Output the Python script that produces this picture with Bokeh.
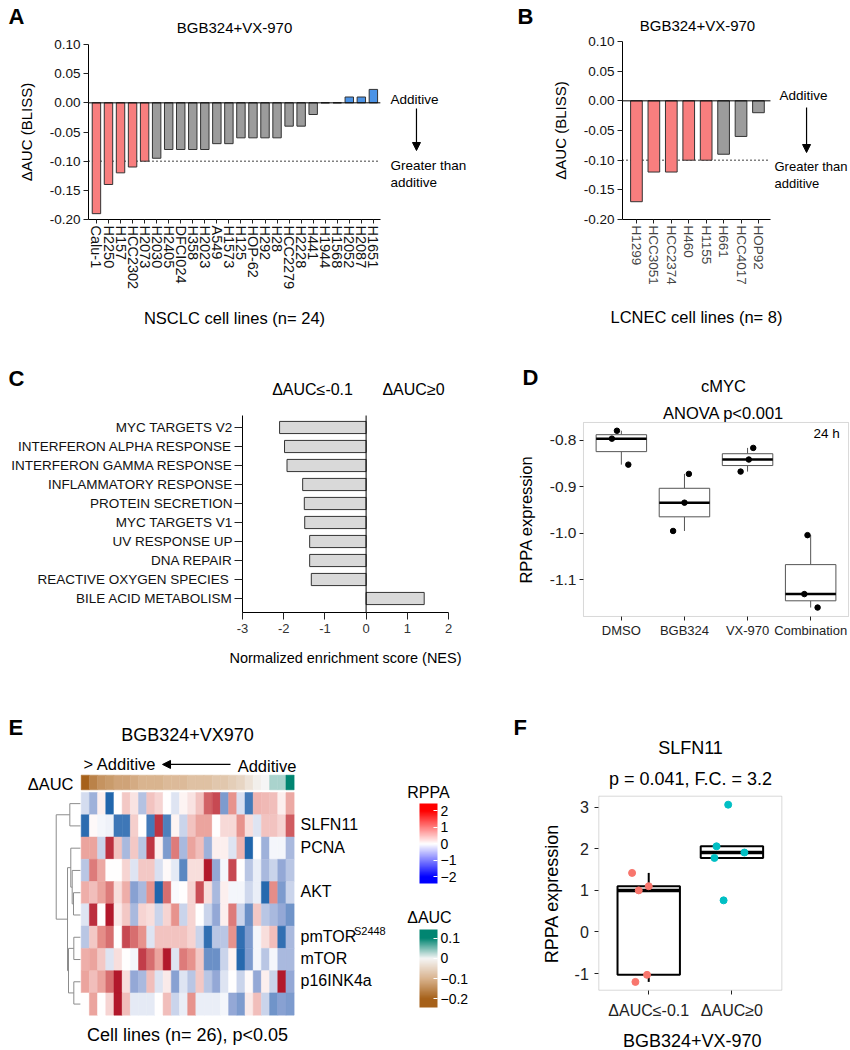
import numpy as np
from bokeh.plotting import figure
from bokeh.layouts import column, row
from bokeh.models import (FixedTicker, Label, Arrow, NormalHead, ColumnDataSource, BoxAnnotation,
                          LinearColorMapper, ColorBar, PrintfTickFormatter)
from bokeh.transform import transform
from bokeh.embed import file_html
from bokeh.resources import INLINE

FONT = "Liberation Sans"

# ---------------- data ----------------
A_LINES = ["Calu-1", "H2250", "H157", "HCC2302", "H2073", "H2030", "H2405", "DFCI024", "H358",
           "H2023", "A549", "H1573", "H125", "HOP-62", "H292", "H28", "HCC2279", "H2228", "H441",
           "H1944", "H1568", "H2052", "H2087", "H1651"]
A_DAUC = [-0.19, -0.14, -0.12, -0.11, -0.10, -0.095, -0.08, -0.08, -0.08, -0.08, -0.07, -0.07,
          -0.06, -0.06, -0.06, -0.06, -0.04, -0.04, -0.02, 0.0, 0.0, 0.01, 0.01, 0.023]

B_LINES = ["H1299", "HCC3051", "HCC2374", "H460", "H1155", "H661", "HCC4017", "HOP92"]
B_DAUC = [-0.17, -0.12, -0.12, -0.10, -0.10, -0.09, -0.06, -0.02]

C_PATHWAYS = ["MYC TARGETS V2", "INTERFERON ALPHA RESPONSE", "INTERFERON GAMMA RESPONSE",
              "INFLAMMATORY RESPONSE", "PROTEIN SECRETION", "MYC TARGETS V1", "UV RESPONSE UP",
              "DNA REPAIR", "REACTIVE OXYGEN SPECIES ", "BILE ACID METABOLISM"]
C_NES = [-2.10, -1.98, -1.92, -1.54, -1.50, -1.49, -1.37, -1.37, -1.33, 1.41]

D_GROUPS = ["DMSO", "BGB324", "VX-970", "Combination"]
D_VALUES = [[-0.779, -0.796, -0.852], [-0.872, -0.934, -0.995],
            [-0.816, -0.841, -0.867], [-1.004, -1.131, -1.160]]
D_JITTER = [[-0.07, -0.15, 0.11], [0.07, 0.0, -0.18], [0.09, 0.02, -0.11], [-0.05, -0.10, 0.11]]

E_DAUC = [-0.20, -0.16, -0.14, -0.13, -0.12, -0.12, -0.11, -0.10, -0.10, -0.10, -0.09, -0.09, -0.09,
          -0.08, -0.08, -0.08, -0.07, -0.07, -0.06, -0.05, -0.03, -0.01, 0.00, 0.03, 0.03, 0.10]
E_RPPA = [
    [-0.4, -0.9, 0.15, -2.0, 0.0, 0.5, 0.25, -0.7, 0.55, 0.4, 0.0, -0.3, 0.1, 0.25, 0.55, 1.4, 1.6, -1.2, 1.0, -0.35, -1.7, 0.7, 0.65, 0.6, 0.15, 0.8],
    [-1.9, 0.05, -0.1, -0.15, -1.75, -1.75, 0.45, 0.0, -1.7, 1.75, -1.6, 0.1, -0.5, 0.55, 0.85, 0.85, 0.0, 0.35, 0.35, 1.0, 0.3, -0.3, 0.55, 0.55, 0.4, 1.45],
    [0.85, 0.85, -0.5, 1.8, 0.55, -0.8, 0.5, -0.65, 1.75, 0.15, -1.2, 1.2, -0.8, 0.85, 0.6, -0.9, 0.15, 0.15, -0.3, 0.7, -2.0, 0.0, -0.9, -0.1, -0.1, -0.8],
    [-0.65, 1.2, 0.8, 0.0, 0.0, 0.4, -0.3, 0.5, 0.5, -0.35, 0.05, -0.25, -1.5, 0.3, 0.3, 2.0, -1.0, -0.1, 1.6, 0.0, -0.65, -0.2, -0.8, -0.5, -1.0, -0.65],
    [0.75, 0.6, 0.85, 1.2, 0.3, 0.75, -1.1, -0.8, 1.0, -2.0, 1.3, -0.05, 0.0, 0.4, 1.55, 0.3, -0.8, 0.15, -0.1, -0.1, -0.45, -0.2, -1.95, 1.05, -1.2, -0.5],
    [-0.3, 1.8, 0.0, 2.0, 0.2, 0.5, -0.8, 0.4, 0.3, -0.5, 0.4, 1.0, -0.5, 0.4, 0.0, -0.5, -1.0, 0.15, 1.2, -0.5, -1.35, 0.5, -0.65, -0.8, -1.0, -1.3],
    [-0.65, 0.5, 1.05, 1.3, 0.0, 1.6, 1.3, 1.0, -0.3, 0.55, 0.55, 0.55, 0.55, 0.4, -0.5, -1.85, -0.65, -0.65, 1.0, -1.85, -1.2, -0.1, 0.3, 0.6, -1.85, -0.8],
    [0.75, 0.85, 0.5, -0.3, 0.3, 0.0, -0.1, 1.7, 1.3, 0.85, 2.0, -0.3, 1.2, 1.0, 0.5, -1.35, -1.35, -0.5, 0.1, -1.95, -1.2, -0.1, -0.65, -0.1, -0.8, -0.8],
    [0.85, 0.6, 0.85, 1.3, 2.0, 0.3, -1.0, -0.8, 0.6, -0.3, 0.2, -1.1, -0.3, -0.65, 0.5, -0.65, -1.0, -0.3, 0.0, -0.5, 0.05, -1.0, 0.15, -0.5, 2.0, -1.0],
    [0.0, 0.85, 0.0, 0.4, 2.0, 0.6, -0.25, -0.25, -0.25, 0.0, 0.6, -0.5, -0.2, 1.0, -0.2, -0.2, -0.2, -0.1, -1.0, -1.2, 0.2, 0.6, -0.5, -1.3, -1.1, -1.2],
]
E_ROW_LABELS = {1: "SLFN11", 2: "PCNA", 4: "AKT", 6: "pmTOR", 7: "mTOR", 8: "p16INK4a"}
# row dendrogram (linkage: child a, child b, merge position)
DEND_A = [4, 3, 2, 6, 8, 13, 12, 0, 17]
DEND_B = [5, 10, 11, 7, 9, 14, 15, 1, 16]
DEND_H = [-0.94, -1.10, -1.27, -0.90, -0.90, -1.55, -1.67, -1.39, -3.05]

F_GROUPS = ["\u0394AUC\u2264-0.1", "\u0394AUC\u22650"]
F_VALUES = [[1.42, 1.00, 1.10, -1.03, -1.20], [3.06, 2.06, 1.78, 1.91, 0.76]]
F_JITTER = [[-0.20, -0.12, 0.0, -0.02, -0.16], [-0.045, -0.185, -0.21, 0.15, -0.10]]

RED, GRAY, BLUE = "#F87E7E", "#9C9C9C", "#4B93E6"


# ---------------- helpers ----------------
def ramp(stops, colors, low, high, n=256):
    rgb = np.array([[int(c[i:i + 2], 16) for i in (1, 3, 5)] for c in colors], float)
    out = []
    for v in np.linspace(low, high, n):
        r = [int(round(np.interp(v, stops, rgb[:, k]))) for k in range(3)]
        out.append("#%02x%02x%02x" % tuple(r))
    return out


def base_fig(w, h, xr, yr, axes=True):
    kw = dict(width=w, height=h, x_range=xr, y_range=yr, output_backend="svg",
              toolbar_location=None, title=None, min_border=0, min_border_left=0,
              min_border_right=0, min_border_top=0, min_border_bottom=0)
    if not axes:
        kw.update(x_axis_location=None, y_axis_location=None)
    p = figure(**kw)
    p.xgrid.visible = False
    p.ygrid.visible = False
    p.outline_line_color = None
    p.background_fill_color = "white"
    p.border_fill_color = "white"
    return p


def style_axis(ax, size, color="#000000", tick_out=5, standoff=3, line=True):
    ax.axis_line_color = "black" if line else None
    ax.major_tick_line_color = "#222222"
    ax.major_tick_out = tick_out
    ax.major_tick_in = 0
    ax.minor_tick_line_color = None
    ax.major_label_text_font = FONT
    ax.major_label_text_font_size = size
    ax.major_label_text_color = color
    ax.major_label_standoff = standoff
    ax.axis_label_text_font = FONT
    ax.axis_label_text_font_style = "normal"
    ax.axis_label_text_color = "black"


def lab(p, x, y, text, size, align="left", baseline="middle", bold=False):
    p.add_layout(Label(x=x, y=y, text=text, text_font=FONT,
                       text_font_size=size, text_align=align, text_baseline=baseline,
                       text_font_style="bold" if bold else "normal", text_color="black"))


def arrow(p, x0, y0, x1, y1):
    p.add_layout(Arrow(end=NormalHead(size=8, fill_color="black", line_color="black"),
                       x_start=x0, y_start=y0, x_end=x1, y_end=y1, line_width=1.2,
                       line_color="black"))


def box_stats(vals):
    q1, med, q3 = np.percentile(vals, [25, 50, 75])
    iqr = q3 - q1
    lo = min(v for v in vals if v >= q1 - 1.5 * iqr)
    hi = max(v for v in vals if v <= q3 + 1.5 * iqr)
    return q1, med, q3, lo, hi


def bar_panel(w, h, names, vals, xr, yr, xb, width, xlabel, tick_color, tick_size, lab_standoff):
    p = base_fig(w, h, xr, yr)
    xs = list(range(len(names)))
    cols = [RED if v <= -0.10 else (BLUE if v > 0 else GRAY) for v in vals]
    p.segment(x0=[xb[0]], y0=[-0.10], x1=[xb[1]], y1=[-0.10], line_color="black",
              line_dash="1 3", line_width=1.5)
    p.vbar(x=xs, top=vals, bottom=0, width=width, fill_color=cols, line_color="#333333",
           line_width=1)
    p.segment(x0=[xb[0]], y0=[0], x1=[xb[1]], y1=[0], line_color="black", line_width=1)
    style_axis(p.yaxis[0], "13.5px", "#111111", tick_out=5, standoff=3)
    p.yaxis.fixed_location = xb[0]
    p.yaxis.bounds = (-0.20, 0.10)
    p.yaxis.ticker = FixedTicker(ticks=[-0.20, -0.15, -0.10, -0.05, 0.0, 0.05, 0.10])
    p.yaxis.formatter = PrintfTickFormatter(format="%.2f")
    p.yaxis.axis_label = "\u0394AUC (BLISS)"
    p.yaxis.axis_label_text_font_size = "15px"
    p.yaxis.axis_label_standoff = 12
    style_axis(p.xaxis[0], tick_size, tick_color, tick_out=4, standoff=2)
    p.xaxis.fixed_location = -0.20
    p.xaxis.bounds = xb
    p.xaxis.ticker = FixedTicker(ticks=xs)
    p.xaxis.major_label_overrides = {i: n for i, n in enumerate(names)}
    p.xaxis.major_label_orientation = "vertical"
    p.xaxis.axis_label = xlabel
    p.xaxis.axis_label_text_font_size = "16.5px"
    p.xaxis.axis_label_standoff = lab_standoff
    return p


# ---------------- Panel A ----------------
pA = bar_panel(470, 333, A_LINES, A_DAUC, (-7.969, 31.067), (-0.39543, 0.17543), (-0.66, 23.58),
               0.7, "NSCLC cell lines (n= 24)", "#111111", "14.5px", 17)
lab(pA, -7.30, 0.148, "A", "22px", bold=True)
lab(pA, 11.47, 0.129, "BGB324+VX-970", "15px", align="center")
lab(pA, 24.42, 0.0057, "Additive", "13.5px")
arrow(pA, 26.58, -0.0097, 26.58, -0.0817)
lab(pA, 24.42, -0.1074, "Greater than", "13.5px")
lab(pA, 24.42, -0.1366, "additive", "13.5px")

# ---------------- Panel B ----------------
pB = bar_panel(380, 333, B_LINES, B_DAUC, (-9.521, 12.281), (-0.3921, 0.1691), (-0.8, 7.69),
               0.67, "LCNEC cell lines (n= 8)", "#444444", "13.5px", 20)
lab(pB, -6.82, 0.142, "B", "22px", bold=True)
lab(pB, 3.50, 0.127, "BGB324+VX-970", "15px", align="center")
lab(pB, 8.21, 0.009, "Additive", "13.5px")
arrow(pB, 9.76, -0.0112, 9.76, -0.0871)
lab(pB, 7.92, -0.1107, "Greater than", "13px")
lab(pB, 7.92, -0.1393, "additive", "13px")

# ---------------- Panel C ----------------
pC = base_fig(463, 337, (-8.874, 2.364), (12.789, -4.947))
ys = list(range(len(C_PATHWAYS)))
pC.hbar(y=ys, left=0, right=C_NES, height=0.64, fill_color="#D9D9D9", line_color="#333333",
        line_width=1)
pC.segment(x0=[0], y0=[-0.63], x1=[0], y1=[9.74], line_color="black", line_width=1)
style_axis(pC.yaxis[0], "13.5px", "#111111", tick_out=8, standoff=2)
pC.yaxis.fixed_location = -3
pC.yaxis.bounds = (-0.63, 9.74)
pC.yaxis.ticker = FixedTicker(ticks=ys)
pC.yaxis.major_label_overrides = {i: n for i, n in enumerate(C_PATHWAYS)}
style_axis(pC.xaxis[0], "13px", "#333333", tick_out=7, standoff=4)
pC.xaxis.fixed_location = 9.74
pC.xaxis.bounds = (-3, 2)
pC.xaxis.ticker = FixedTicker(ticks=[-3, -2, -1, 0, 1, 2])
pC.xaxis.formatter = PrintfTickFormatter(format="%d")
pC.xaxis.axis_label = "Normalized enrichment score (NES)"
pC.xaxis.axis_label_text_font_size = "14.5px"
pC.xaxis.axis_label_standoff = 14
lab(pC, -8.68, -2.58, "C", "22px", bold=True)
lab(pC, -1.30, -2.0, "\u0394AUC\u2264-0.1", "16px", align="center")
lab(pC, 1.15, -2.0, "\u0394AUC\u22650", "16px", align="center")

# ---------------- Panel D ----------------
D_BOX = (0.4, 4.6, -1.1793, -0.7612)
pD = base_fig(387, 337, (-1.5017, 4.6314), (-1.2957, -0.5694))
cx, q1s, meds, q3s, los, his, px, py = [], [], [], [], [], [], [], []
for i, vals in enumerate(D_VALUES):
    q1, med, q3, lo, hi = box_stats(vals)
    cx.append(i + 1); q1s.append(q1); meds.append(med); q3s.append(q3); los.append(lo); his.append(hi)
    px += [i + 1 + j for j in D_JITTER[i]]
    py += vals
pD.segment(x0=cx, y0=q3s, x1=cx, y1=his, line_color="#555555", line_width=1)
pD.segment(x0=cx, y0=q1s, x1=cx, y1=los, line_color="#555555", line_width=1)
pD.vbar(x=cx, width=0.8, top=q3s, bottom=q1s, fill_color="white", line_color="#555555", line_width=1)
pD.segment(x0=[c - 0.4 for c in cx], y0=meds, x1=[c + 0.4 for c in cx], y1=meds,
           line_color="black", line_width=2.5)
pD.scatter(x=px, y=py, size=5.5, color="black")
pD.add_layout(BoxAnnotation(left=D_BOX[0], right=D_BOX[1], bottom=D_BOX[2], top=D_BOX[3],
                            fill_alpha=0, line_color="#808080", line_width=1))
style_axis(pD.yaxis[0], "15.5px", "#222222", tick_out=4, standoff=3, line=False)
pD.yaxis.fixed_location = D_BOX[0]
pD.yaxis.bounds = (D_BOX[2], D_BOX[3])
pD.yaxis.ticker = FixedTicker(ticks=[-1.1, -1.0, -0.9, -0.8])
pD.yaxis.formatter = PrintfTickFormatter(format="%.1f")
pD.yaxis.axis_label = "RPPA expression"
pD.yaxis.axis_label_text_font_size = "16.5px"
pD.yaxis.axis_label_standoff = 12
style_axis(pD.xaxis[0], "13px", "#222222", tick_out=4, standoff=3, line=False)
pD.xaxis.fixed_location = D_BOX[2]
pD.xaxis.bounds = (D_BOX[0], D_BOX[1])
pD.xaxis.ticker = FixedTicker(ticks=[1, 2, 3, 4])
pD.xaxis.major_label_overrides = {i + 1: g for i, g in enumerate(D_GROUPS)}
lab(pD, -0.567, -0.6642, "D", "22px", bold=True)
lab(pD, 2.62, -0.6836, "cMYC", "16.5px", align="center")
lab(pD, 2.62, -0.7397, "ANOVA p<0.001", "16.5px", align="center")
lab(pD, 4.46, -0.7849, "24 h", "13.5px", align="right")

# ---------------- Panel E (heatmap) ----------------
pE = base_fig(400, 380, (-9.853, 38.986), (11.585, -5.478), axes=False)
hm_mapper = LinearColorMapper(palette=ramp([-2, -1, 0, 1, 2],
                                           ["#2166AC", "#94A8D6", "#FFFFFF", "#E8948E", "#B2182B"],
                                           -2, 2), low=-2, high=2)
auc_stops = [-0.2, -0.1, 0.0, 0.1]
auc_cols = ["#A6611A", "#D9B48F", "#F5F5F5", "#018571"]
auc_mapper = LinearColorMapper(palette=ramp(auc_stops, auc_cols, -0.2, 0.1), low=-0.2, high=0.1)
hx, hy, hv = [], [], []
for r, rowvals in enumerate(E_RPPA):
    for c, v in enumerate(rowvals):
        hx.append(c + 0.5); hy.append(r + 0.5); hv.append(v)
src = ColumnDataSource(dict(x=hx, y=hy, v=hv))
pE.rect(x="x", y="y", width=1, height=1, source=src, fill_color=transform("v", hm_mapper),
        line_color=transform("v", hm_mapper), line_width=0.5)
asrc = ColumnDataSource(dict(x=[c + 0.5 for c in range(len(E_DAUC))], y=[-0.45] * len(E_DAUC), v=E_DAUC))
pE.rect(x="x", y="y", width=1, height=0.66, source=asrc, fill_color=transform("v", auc_mapper),
        line_color=transform("v", auc_mapper), line_width=0.5)
# dendrogram from linkage
nx = {i: -0.1 for i in range(len(E_RPPA))}
ny = {i: i + 0.5 for i in range(len(E_RPPA))}
sx0, sy0, sx1, sy1 = [], [], [], []
for k, (a, b, h) in enumerate(zip(DEND_A, DEND_B, DEND_H)):
    nid = len(E_RPPA) + k
    nx[nid] = h
    ny[nid] = (ny[a] + ny[b]) / 2
    sx0 += [h, h, h]; sy0 += [ny[a], ny[a], ny[b]]
    sx1 += [h, nx[a], nx[b]]; sy1 += [ny[b], ny[a], ny[b]]
pE.segment(x0=sx0, y0=sy0, x1=sx1, y1=sy1, line_color="#8C8C8C", line_width=1)
for r, name in E_ROW_LABELS.items():
    lab(pE, 26.78, r + 0.45, name, "16px")
lab(pE, 33.3, 6.22, "S2448", "11px")
lab(pE, -8.88, -2.92, "E", "22px", bold=True)
lab(pE, 12.98, -2.60, "BGB324+VX970", "18px", align="center")
lab(pE, 0.28, -1.26, "> Additive", "16.5px")
arrow(pE, 18.23, -1.26, 9.93, -1.26)
lab(pE, 19.1, -1.17, "Additive", "16.5px")
lab(pE, -0.94, -0.40, "\u0394AUC", "16.5px", align="right")
lab(pE, 12.98, 10.87, "Cell lines (n= 26), p<0.05", "18px", align="center")

# ---------------- Panel E legends ----------------
pL = base_fig(90, 380, (400, 490), (1050, 670), axes=False)
leg_rppa = LinearColorMapper(palette=ramp([-2, 0, 2], ["#0000FF", "#FFFFFF", "#FF0000"], -2.4, 2.44),
                             low=-2.4, high=2.44)
leg_auc = LinearColorMapper(palette=ramp(auc_stops, auc_cols, -0.243, 0.143), low=-0.243, high=0.143)
for mapper, loc, hgt, ticks, over in [
        (leg_rppa, (19, 167), 80, [-2, -1, 0, 1, 2],
         {-2: "\u22122", -1: "\u22121", 0: "0", 1: "1", 2: "2"}),
        (leg_auc, (19, 43), 78, [-0.2, -0.1, 0, 0.1],
         {-0.2: "\u22120.2", -0.1: "\u22120.1", 0: "0", 0.1: "0.1"})]:
    cb = ColorBar(color_mapper=mapper, location=loc, width=18, height=hgt, orientation="vertical",
                  ticker=FixedTicker(ticks=ticks), major_label_overrides=over,
                  major_label_text_font=FONT, major_label_text_font_size="14px",
                  major_label_text_color="black", label_standoff=3,
                  major_tick_line_color="white", major_tick_in=4, major_tick_out=0,
                  minor_tick_line_color=None, bar_line_color=None, border_line_color=None,
                  background_fill_alpha=0, padding=0, margin=0)
    pL.add_layout(cb)
lab(pL, 406.7, 791.7, "RPPA", "16px")
lab(pL, 406.7, 916.7, "\u0394AUC", "16px")

# ---------------- Panel F ----------------
F_BOX = (0.4, 2.6, -1.40, 3.264)
pF = base_fig(360, 380, (-0.9017, 3.4252), (-2.8490, 6.2856))
fcols = ["#F8766D", "#00BFC4"]
cx, q1s, meds, q3s, los, his, px, py, pc = [], [], [], [], [], [], [], [], []
for i, vals in enumerate(F_VALUES):
    q1, med, q3, lo, hi = box_stats(vals)
    cx.append(i + 1); q1s.append(q1); meds.append(med); q3s.append(q3); los.append(lo); his.append(hi)
    px += [i + 1 + j for j in F_JITTER[i]]
    py += vals
    pc += [fcols[i]] * len(vals)
pF.segment(x0=cx, y0=q3s, x1=cx, y1=his, line_color="black", line_width=2)
pF.segment(x0=cx, y0=q1s, x1=cx, y1=los, line_color="black", line_width=2)
pF.vbar(x=cx, width=0.75, top=q3s, bottom=q1s, fill_color="white", line_color="black", line_width=2)
pF.segment(x0=[c - 0.375 for c in cx], y0=meds, x1=[c + 0.375 for c in cx], y1=meds,
           line_color="black", line_width=3.5)
pF.scatter(x=px, y=py, size=7, color=pc)
pF.add_layout(BoxAnnotation(left=F_BOX[0], right=F_BOX[1], bottom=F_BOX[2], top=F_BOX[3],
                            fill_alpha=0, line_color="#808080", line_width=1))
style_axis(pF.yaxis[0], "16px", "#222222", tick_out=4, standoff=6, line=False)
pF.yaxis.fixed_location = F_BOX[0]
pF.yaxis.bounds = (F_BOX[2], F_BOX[3])
pF.yaxis.ticker = FixedTicker(ticks=[-1, 0, 1, 2, 3])
pF.yaxis.formatter = PrintfTickFormatter(format="%d")
pF.yaxis.axis_label = "RPPA expression"
pF.yaxis.axis_label_text_font_size = "18px"
pF.yaxis.axis_label_standoff = 9
style_axis(pF.xaxis[0], "16px", "#222222", tick_out=4, standoff=8, line=False)
pF.xaxis.fixed_location = F_BOX[2]
pF.xaxis.bounds = (F_BOX[0], F_BOX[1])
pF.xaxis.ticker = FixedTicker(ticks=[1, 2])
pF.xaxis.major_label_overrides = {i + 1: g for i, g in enumerate(F_GROUPS)}
lab(pF, -0.625, 4.923, "F", "22px", bold=True)
lab(pF, 1.502, 4.427, "SLFN11", "18px", align="center")
lab(pF, 1.502, 3.682, "p = 0.041, F.C. = 3.2", "18px", align="center")
lab(pF, 1.523, -2.609, "BGB324+VX-970", "18px", align="center")

layout = column(row(pA, pB), row(pC, pD), row(pE, pL, pF))
open("out.html", "w").write(file_html(layout, INLINE))
